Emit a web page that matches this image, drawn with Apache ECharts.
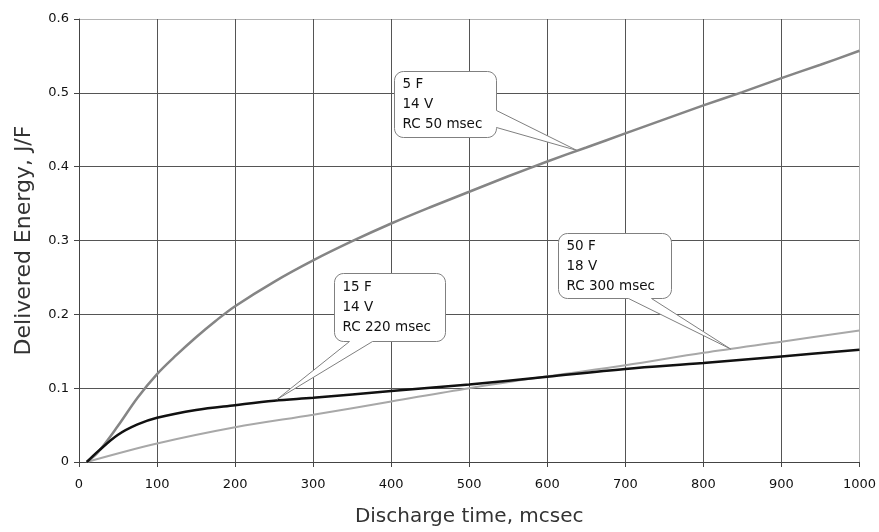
<!DOCTYPE html>
<html>
<head>
<meta charset="utf-8">
<script src="https://cdn.jsdelivr.net/npm/echarts@6/dist/echarts.min.js"></script>
<style>
  html, body { margin: 0; padding: 0; background: #fff; }
  #chart { width: 879px; height: 532px; }
</style>
</head>
<body>
<div id="chart"></div>
<script>
// Discharge time (mcsec) and delivered energy (J/F) for each capacitor bank
const time5F = [10, 25, 50, 75, 100, 125, 150, 175, 200, 250, 300, 350, 400, 450, 500, 550, 600, 650, 700, 750, 800, 850, 900, 950, 1000];
const energy5F = [0, 0.014, 0.049, 0.087, 0.119, 0.145, 0.169, 0.191, 0.211, 0.244, 0.273, 0.299, 0.323, 0.345, 0.366, 0.387, 0.407, 0.426, 0.445, 0.464, 0.483, 0.501, 0.520, 0.538, 0.557];

const time15F = [10, 25, 50, 75, 100, 150, 200, 250, 300, 400, 500, 600, 700, 800, 900, 1000];
const energy15F = [0, 0.015, 0.037, 0.051, 0.060, 0.0705, 0.077, 0.083, 0.087, 0.096, 0.105, 0.1155, 0.126, 0.134, 0.143, 0.152];

const time50F = [10, 100, 200, 300, 400, 500, 600, 700, 800, 900, 1000];
const energy50F = [0, 0.025, 0.047, 0.064, 0.082, 0.100, 0.116, 0.131, 0.148, 0.163, 0.178];

const xTicks = [0, 100, 200, 300, 400, 500, 600, 700, 800, 900, 1000];
const yTicks = [0, 0.1, 0.2, 0.3, 0.4, 0.5, 0.6];

// Callout texts and the curve point each one points at
const calloutText = [
  ['5 F', '14 V', 'RC 50 msec'],
  ['15 F', '14 V', 'RC 220 msec'],
  ['50 F', '18 V', 'RC 300 msec']
];
const calloutPoint = [[638, 0.422], [254, 0.085], [835, 0.153]];

// Box placement relative to the pointer tip (pixels) and wedge attachment
const calloutLayout = [
  { dx: -183, dy: -79, w: 102, h: 66, side: 'right', a: 39, b: 56 },
  { dx: 57, dy: -126, w: 111, h: 68, side: 'bottom', a: 15, b: 38 },
  { dx: -173, dy: -116, w: 113, h: 65, side: 'bottom', a: 70, b: 93 }
];

const pairs = (xs, ys) => xs.map((x, i) => [x, ys[i]]);

const gridColor = '#555';
const borderColor = '#b4b4b4';
const font = 'DejaVu Sans';

const chart = echarts.init(document.getElementById('chart'), null, { renderer: 'canvas' });

const lineSeries = (name, data, color, width, z) => ({
  name, type: 'line', data, showSymbol: false, symbol: 'none',
  smooth: 0.35, z,
  lineStyle: { color, width }
});

chart.setOption({
  animation: false,
  backgroundColor: '#fff',
  grid: { left: 79, right: 17, top: 19, bottom: 68 },
  xAxis: {
    type: 'value', min: xTicks[0], max: xTicks[xTicks.length - 1], interval: 100,
    name: 'Discharge time, mcsec', nameLocation: 'middle', nameGap: 45,
    nameTextStyle: { fontFamily: font, fontSize: 20, color: '#333' },
    axisLine: { show: true, onZero: false, lineStyle: { color: '#444', width: 1 } },
    axisTick: { show: true, length: 5, lineStyle: { color: '#444' } },
    axisLabel: { fontFamily: font, fontSize: 13, color: '#111', margin: 16,
      formatter: v => String(v) },
    splitLine: { show: true, lineStyle: { color: xTicks.map((t, i) => i === xTicks.length - 1 ? borderColor : gridColor), width: 1 } }
  },
  yAxis: {
    type: 'value', min: yTicks[0], max: yTicks[yTicks.length - 1], interval: 0.1,
    name: 'Delivered Energy, J/F', nameLocation: 'middle', nameGap: 44,
    nameTextStyle: { fontFamily: font, fontSize: 22, color: '#333' },
    axisLine: { show: true, onZero: false, lineStyle: { color: '#444', width: 1 } },
    axisTick: { show: true, length: 5, lineStyle: { color: '#444' } },
    axisLabel: { fontFamily: font, fontSize: 13, color: '#111', margin: 10,
      formatter: v => (Math.round(v * 10) / 10).toString() },
    splitLine: { show: true, lineStyle: { color: yTicks.map((t, i) => i === yTicks.length - 1 ? borderColor : gridColor), width: 1 } }
  },
  series: [
    lineSeries('50 F', pairs(time50F, energy50F), '#a8a8a8', 2, 3),
    lineSeries('5 F', pairs(time5F, energy5F), '#858585', 2.5, 4),
    lineSeries('15 F', pairs(time15F, energy15F), '#111', 2.5, 5)
  ]
});

// Outline of a rounded box with a wedge pointing to (tx, ty), as polygon points
function calloutPoints(x, y, w, h, r, side, a, b, tx, ty) {
  const pts = [];
  const corner = (cx, cy, start) => {
    for (let k = 0; k <= 6; k++) {
      const ang = start + (Math.PI / 2) * (k / 6);
      pts.push([cx + r * Math.cos(ang), cy + r * Math.sin(ang)]);
    }
  };
  corner(x + w - r, y + r, -Math.PI / 2);          // top-right
  if (side === 'right') pts.push([x + w, y + a], [tx, ty], [x + w, y + b]);
  corner(x + w - r, y + h - r, 0);                 // bottom-right
  if (side === 'bottom') pts.push([x + b, y + h], [tx, ty], [x + a, y + h]);
  corner(x + r, y + h - r, Math.PI / 2);           // bottom-left
  corner(x + r, y + r, Math.PI);                   // top-left
  return pts;
}

const graphics = [];
calloutPoint.forEach((pt, i) => {
  const [tx, ty] = chart.convertToPixel({ xAxisIndex: 0, yAxisIndex: 0 }, pt);
  const L = calloutLayout[i];
  const bx = Math.round(tx + L.dx) + 0.5, by = Math.round(ty + L.dy) + 0.5;
  graphics.push({
    type: 'polygon', z: 10,
    shape: { points: calloutPoints(bx, by, L.w, L.h, 9, L.side, L.a, L.b, tx, ty) },
    style: { fill: '#fff', stroke: '#808080', lineWidth: 1 }
  });
  graphics.push({
    type: 'text', z: 11,
    x: bx + 8, y: by + L.h / 2,
    style: {
      text: calloutText[i].join('\n'), fontFamily: font, fontSize: 13.5,
      lineHeight: 20, fill: '#111', verticalAlign: 'middle', align: 'left'
    }
  });
});
chart.setOption({ graphic: graphics });
</script>
</body>
</html>
